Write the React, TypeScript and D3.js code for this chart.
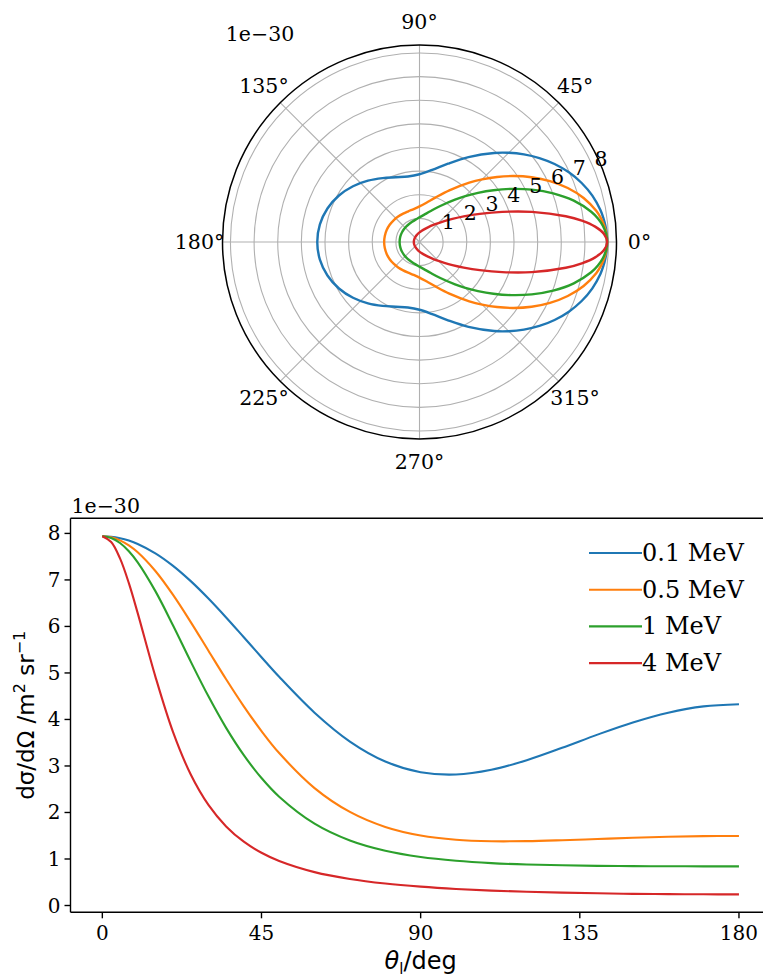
import React from "react";
import * as d3 from "d3";

// Scattering angle (deg) and dσ/dΩ values (units of 1e-30 m^2 sr^-1)
const angles = [0, 2.5, 5, 7.5, 10, 15, 20, 25, 30, 35, 40, 45, 50, 60, 70, 80, 90, 100, 110, 120, 130, 140, 150, 160, 170, 180];
const mev01 = [7.94, 7.93, 7.898, 7.846, 7.774, 7.573, 7.303, 6.974, 6.6, 6.193, 5.767, 5.338, 4.917, 4.146, 3.526, 3.097, 2.866, 2.817, 2.918, 3.124, 3.39, 3.674, 3.936, 4.146, 4.281, 4.327];
const mev05 = [7.94, 7.918, 7.851, 7.742, 7.594, 7.191, 6.677, 6.093, 5.478, 4.865, 4.283, 3.751, 3.278, 2.525, 2.012, 1.689, 1.505, 1.414, 1.382, 1.384, 1.404, 1.43, 1.457, 1.478, 1.491, 1.496];
const mev1 = [7.94, 7.903, 7.794, 7.616, 7.378, 6.759, 6.02, 5.244, 4.497, 3.819, 3.233, 2.741, 2.339, 1.759, 1.397, 1.176, 1.042, 0.961, 0.911, 0.882, 0.864, 0.853, 0.847, 0.844, 0.842, 0.841];
const mev4 = [7.94, 7.816, 7.462, 6.93, 6.286, 4.922, 3.727, 2.817, 2.163, 1.701, 1.372, 1.134, 0.957, 0.718, 0.57, 0.472, 0.405, 0.356, 0.321, 0.295, 0.276, 0.262, 0.251, 0.244, 0.241, 0.239];
const seriesNames = ["0.1 MeV", "0.5 MeV", "1 MeV", "4 MeV"];
const seriesValues = [mev01, mev05, mev1, mev4];
const colors = ["#1f77b4", "#ff7f0e", "#2ca02c", "#d62728"];
const xTicks = [0, 45, 90, 135, 180];
const yTicks = [0, 1, 2, 3, 4, 5, 6, 7, 8];
const rTicks = [1, 2, 3, 4, 5, 6, 7, 8];
const thetaTicks = [0, 45, 90, 135, 180, 225, 270, 315];

const SERIF = "'DejaVu Serif', serif";
const SANS = "'DejaVu Sans', sans-serif";

export default function App() {
  const W = 763, H = 978;
  const allVals = seriesValues.flat();
  const vmin = d3.min(allVals)!;
  const vmax = d3.max(allVals)!;

  // ---------- polar ----------
  const cx = 419.5, cy = 242, R = 197;
  const rScale = d3.scaleLinear().domain([0, vmax * 1.05]).range([0, R]);
  const polarPts = (vals: number[]) => {
    const pts: [number, number][] = angles.map((a, i) => [a, vals[i]]);
    for (let i = angles.length - 2; i >= 1; i--) pts.push([360 - angles[i], vals[i]]);
    return pts;
  };
  const radial = d3
    .lineRadial<[number, number]>()
    .angle((d) => Math.PI / 2 - (d[0] * Math.PI) / 180)
    .radius((d) => rScale(d[1]))
    .curve(d3.curveCatmullRomClosed);

  // ---------- cartesian ----------
  const x = d3.scaleLinear().domain([-9, 189]).range([70.5, 770.8]);
  const span = vmax - vmin;
  const y = d3.scaleLinear().domain([vmin - 0.05 * span, vmax + 0.05 * span]).range([912.3, 518.3]);
  const line = d3
    .line<number>()
    .x((_, i) => x(angles[i]))
    .y((d) => y(d))
    .curve(d3.curveCatmullRom);
  const left = x.range()[0], right = x.range()[1];
  const top = y.range()[1], bottom = y.range()[0];

  const legX0 = 589, legX1 = 642, legY0 = 553, legDy = 36.7;

  return (
    <svg width={W} height={H} style={{ position: "absolute", left: 0, top: 0 }}>
      <rect width={W} height={H} fill="white" />
      {/* Polar plot */}
      <g transform={`translate(${cx},${cy})`}>
        {rTicks.map((t) => (
          <circle key={t} r={rScale(t)} fill="none" stroke="#b0b0b0" strokeWidth={1.1} />
        ))}
        {thetaTicks.map((t) => (
          <line
            key={t}
            x1={0}
            y1={0}
            x2={R * Math.cos((t * Math.PI) / 180)}
            y2={-R * Math.sin((t * Math.PI) / 180)}
            stroke="#b0b0b0"
            strokeWidth={1.1}
          />
        ))}
        {seriesValues.map((vals, i) => (
          <path key={i} d={radial(polarPts(vals))!} fill="none" stroke={colors[i]} strokeWidth={2.4} />
        ))}
        <circle r={R} fill="none" stroke="black" strokeWidth={1.5} />
        {rTicks.map((t) => {
          const a = (22.5 * Math.PI) / 180;
          return (
            <text
              key={t}
              x={rScale(t) * Math.cos(a) + 7}
              y={-rScale(t) * Math.sin(a) - 10.5}
              textAnchor="middle"
              dominantBaseline="central"
              fontFamily={SERIF}
              fontSize={20.5}
            >
              {t}
            </text>
          );
        })}
        {thetaTicks.map((t) => (
          <text
            key={t}
            x={220 * Math.cos((t * Math.PI) / 180)}
            y={-220 * Math.sin((t * Math.PI) / 180)}
            textAnchor="middle"
            dominantBaseline="central"
            fontFamily={SERIF}
            fontSize={20.5}
          >
            {t}°
          </text>
        ))}
        <text x={-159.5} y={-208} textAnchor="middle" dominantBaseline="central" fontFamily={SERIF} fontSize={20.5}>
          1e−30
        </text>
      </g>

      {/* Cartesian plot */}
      <g>
        {seriesValues.map((vals, i) => (
          <path key={i} d={line(vals)!} fill="none" stroke={colors[i]} strokeWidth={2.1} />
        ))}
        <line x1={left} y1={top} x2={left} y2={bottom} stroke="black" strokeWidth={1.4} />
        <line x1={left} y1={bottom} x2={right} y2={bottom} stroke="black" strokeWidth={1.4} />
        <line x1={left} y1={top} x2={right} y2={top} stroke="black" strokeWidth={1.4} />
        <line x1={right} y1={top} x2={right} y2={bottom} stroke="black" strokeWidth={1.4} />
        {xTicks.map((t) => (
          <g key={t}>
            <line x1={x(t)} x2={x(t)} y1={bottom} y2={bottom + 6} stroke="black" strokeWidth={1.4} />
            <text x={x(t)} y={bottom + 28} textAnchor="middle" fontFamily={SERIF} fontSize={20}>
              {t}
            </text>
          </g>
        ))}
        {yTicks.map((t) => (
          <g key={t}>
            <line x1={left} x2={left - 6} y1={y(t)} y2={y(t)} stroke="black" strokeWidth={1.4} />
            <text x={left - 10} y={y(t)} textAnchor="end" dominantBaseline="central" fontFamily={SERIF} fontSize={20}>
              {t}
            </text>
          </g>
        ))}
        <text x={left + 1} y={513} fontFamily={SERIF} fontSize={20.5}>
          1e−30
        </text>
        {/* legend */}
        {seriesNames.map((n, i) => (
          <g key={n}>
            <line x1={legX0} x2={legX1} y1={legY0 + i * legDy} y2={legY0 + i * legDy} stroke={colors[i]} strokeWidth={2.1} />
            <text x={legX1} y={legY0 + i * legDy} dominantBaseline="central" fontFamily={SERIF} fontSize={24}>
              {n}
            </text>
          </g>
        ))}
        {/* y label */}
        <text
          transform={`translate(34,${(top + bottom) / 2}) rotate(-90)`}
          textAnchor="middle"
          fontFamily={SANS}
          fontSize={23}
        >
          dσ/dΩ /m
          <tspan dy={-9} fontSize={16}>2</tspan>
          <tspan dy={9}> sr</tspan>
          <tspan dy={-9} fontSize={16}>−1</tspan>
        </text>
        {/* x label */}
        <text x={(left + right) / 2} y={969} textAnchor="middle" fontFamily={SANS} fontSize={24}>
          <tspan fontStyle="italic">θ</tspan>
          <tspan dy={5} fontSize={15}>l</tspan>
          <tspan dy={-5}>/deg</tspan>
        </text>
      </g>
    </svg>
  );
}
